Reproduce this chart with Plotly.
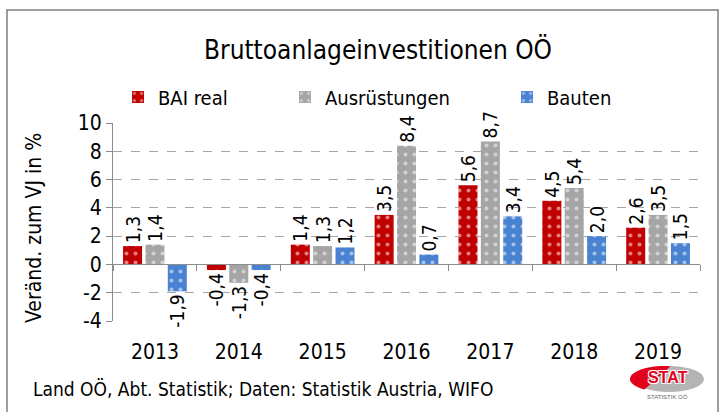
import numpy as np
import plotly.graph_objects as go

years = ["2013", "2014", "2015", "2016", "2017", "2018", "2019"]
bai_real = [1.3, -0.4, 1.4, 3.5, 5.6, 4.5, 2.6]
ausruestungen = [1.4, -1.3, 1.3, 8.4, 8.7, 5.4, 3.5]
bauten = [-1.9, -0.4, 1.2, 0.7, 3.4, 2.0, 1.5]
y_ticks = [-4, -2, 0, 2, 4, 6, 8, 10]

FONT = "DejaVu Sans Condensed, sans-serif"
W, H = 725, 412
L, R, T, B = 113, 700, 123, 321


def px(x):
    return (x - L) / (R - L)


def py(y):
    return (B - y) / (B - T)


def fmt(v):
    return f"{v:.1f}".replace(".", ",")


series = [
    ("BAI real", bai_real, "#C00000", "legend"),
    ("Ausrüstungen", ausruestungen, "#A5A5A5", "legend2"),
    ("Bauten", bauten, "#4A82D2", "legend3"),
]

fig = go.Figure()
for name, vals, col, lg in series:
    fig.add_trace(go.Bar(
        x=years, y=vals, name=name, legend=lg,
        marker=dict(color=col, line=dict(width=0),
                    pattern=dict(shape=".", fgcolor="white", bgcolor=col,
                                 size=9, solidity=0.16, fillmode="overlay")),
        text=[fmt(v) for v in vals], textposition="outside", textangle=-90,
        textfont=dict(family=FONT, size=19, color="black"),
        constraintext="none", cliponaxis=False,
    ))

# helper trace for the zero-line category axis
fig.add_trace(go.Scatter(x=years, y=[0] * len(years), xaxis="x2", mode="markers",
                         marker=dict(opacity=0), showlegend=False, hoverinfo="skip"))

fig.update_layout(
    width=W, height=H,
    margin=dict(l=L, r=W - R, t=T, b=H - B, autoexpand=False),
    paper_bgcolor="white", plot_bgcolor="white",
    barmode="group", bargap=0.2, bargroupgap=0.15,
    font=dict(family=FONT, color="black"),
    title=dict(text="Bruttoanlageinvestitionen OÖ", x=378 / W, xanchor="center",
               y=1 - 50 / H, yanchor="middle", font=dict(size=26, family=FONT)),
    xaxis=dict(type="category", range=[-0.5, 6.5], showline=False, showgrid=False,
               ticks="", tickfont=dict(size=21), ticklabelstandoff=16),
    xaxis2=dict(type="category", overlaying="x", anchor="free", position=4 / 14,
                range=[-0.5, 6.5], showline=True, linecolor="#8C8C8C", linewidth=1,
                ticks="outside", tickson="boundaries", ticklen=6, tickcolor="#8C8C8C",
                showticklabels=False, showgrid=False),
    yaxis=dict(range=[-4, 10], tickvals=y_ticks, ticktext=[str(v) for v in y_ticks],
               showline=True, linecolor="#8C8C8C", linewidth=1,
               ticks="outside", ticklen=6, tickcolor="#8C8C8C",
               showgrid=True, gridcolor="#A6A6A6", griddash="dash", gridwidth=1,
               zeroline=False, tickfont=dict(size=21)),
)

leg_common = dict(orientation="h", yanchor="middle", xanchor="left",
                  font=dict(size=20, family=FONT), bgcolor="rgba(0,0,0,0)",
                  itemwidth=30)
fig.update_layout(
    legend=dict(x=px(118), y=py(97), **leg_common),
    legend2=dict(x=px(285), y=py(97), **leg_common),
    legend3=dict(x=px(507), y=py(97), **leg_common),
)

fig.add_annotation(text="Veränd. zum VJ in %", textangle=-90, xref="paper", yref="paper",
                   x=px(20), y=py(228), showarrow=False, font=dict(size=21, family=FONT))
fig.add_annotation(text="Land OÖ, Abt. Statistik; Daten: Statistik Austria, WIFO",
                   xref="paper", yref="paper", x=px(31), y=py(389), xanchor="left",
                   yanchor="middle", showarrow=False, font=dict(size=19, family=FONT))

# outer frame
fig.add_shape(type="rect", xref="paper", yref="paper", x0=px(7), x1=px(718),
              y0=py(430), y1=py(10), line=dict(color="#7F7F7F", width=1.5), layer="below")

# STAT logo
cx, cy, rx, ry = 669, 379, 35, 13
fig.add_shape(type="circle", xref="paper", yref="paper", x0=px(cx - rx), x1=px(cx + rx),
              y0=py(cy + ry), y1=py(cy - ry), fillcolor="#B4B4B4", line=dict(width=0))
ang = np.linspace(np.pi * 0.45, np.pi * 1.3, 30)
pts = [(cx - 4 + rx * np.cos(a), cy - ry * np.sin(a)) for a in ang]
path = "M " + " L ".join(f"{px(x):.4f},{py(y):.4f}" for x, y in pts) + " Z"
fig.add_shape(type="path", xref="paper", yref="paper", path=path,
              fillcolor="#E3001B", line=dict(width=0))
fig.add_annotation(text="<b>STAT</b>", xref="paper", yref="paper", x=px(690), y=py(388),
                   showarrow=False,
                   font=dict(size=16, color="#E3001B", family="Liberation Sans",
                             shadow="1px 1px 0 white, -1px -1px 0 white, 1px -1px 0 white, -1px 1px 0 white"))
fig.add_annotation(text="STATISTIK OÖ", xref="paper", yref="paper", x=px(690), y=py(402),
                   showarrow=False, font=dict(size=6, color="#666666", family="Liberation Sans"))

fig.write_html("out.html", config={"displayModeBar": False},
               post_script="document.body.style.margin='0';document.body.style.overflow='hidden';")
